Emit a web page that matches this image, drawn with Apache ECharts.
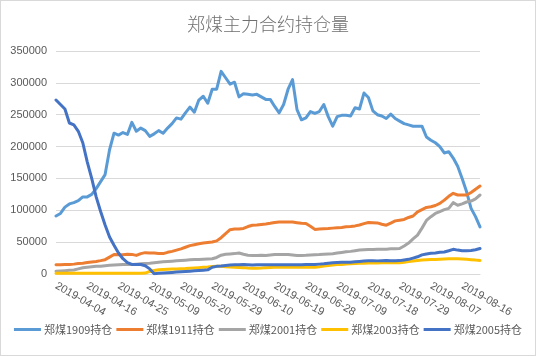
<!DOCTYPE html>
<html>
<head>
<meta charset="utf-8">
<script src="https://cdn.jsdelivr.net/npm/echarts@6/dist/echarts.min.js"></script>
<style>
html,body{margin:0;padding:0;background:#fff;}
#c{width:536px;height:356px;position:relative;}
#frame{position:absolute;left:0;top:0;width:536px;height:356px;box-sizing:border-box;border:1px solid #d9d9d9;pointer-events:none;}
</style>
</head>
<body>
<div id="c"></div>
<div id="frame"></div>
<script>
var categories = ["2019-04-04","2019-04-08","2019-04-09","2019-04-10","2019-04-11","2019-04-12","2019-04-15","2019-04-16","2019-04-17","2019-04-18","2019-04-19","2019-04-22","2019-04-23","2019-04-24","2019-04-25","2019-04-26","2019-04-29","2019-04-30","2019-05-06","2019-05-07","2019-05-08","2019-05-09","2019-05-10","2019-05-13","2019-05-14","2019-05-15","2019-05-16","2019-05-17","2019-05-20","2019-05-21","2019-05-22","2019-05-23","2019-05-24","2019-05-27","2019-05-28","2019-05-29","2019-05-30","2019-05-31","2019-06-03","2019-06-04","2019-06-05","2019-06-06","2019-06-10","2019-06-11","2019-06-12","2019-06-13","2019-06-14","2019-06-17","2019-06-18","2019-06-19","2019-06-20","2019-06-21","2019-06-24","2019-06-25","2019-06-26","2019-06-27","2019-06-28","2019-07-01","2019-07-02","2019-07-03","2019-07-04","2019-07-05","2019-07-08","2019-07-09","2019-07-10","2019-07-11","2019-07-12","2019-07-15","2019-07-16","2019-07-17","2019-07-18","2019-07-19","2019-07-22","2019-07-23","2019-07-24","2019-07-25","2019-07-26","2019-07-29","2019-07-30","2019-07-31","2019-08-01","2019-08-02","2019-08-05","2019-08-06","2019-08-07","2019-08-08","2019-08-09","2019-08-12","2019-08-13","2019-08-14","2019-08-15","2019-08-16","2019-08-19","2019-08-20","2019-08-21","2019-08-22"];

var yTicks = [0,50000,100000,150000,200000,250000,300000,350000];

var zc1909 = [91000,95000,105000,110000,112000,115000,121000,121000,125000,134000,145000,156000,195000,221000,218000,222000,219000,238000,224000,229000,225000,216000,220000,225000,221000,229000,236000,245000,243000,253000,262000,254000,273000,279000,268000,290000,290000,318000,308000,298000,301000,278000,283000,282000,281000,282000,278000,274000,274000,263000,253000,266000,290000,305000,258000,242000,245000,255000,252000,255000,266000,247000,232000,247000,249000,249000,248000,261000,259000,284000,277000,256000,250000,248000,244000,251000,244000,240000,236000,234000,232000,232000,232000,215000,210000,206000,200000,190000,192000,182000,169000,150000,129000,103000,90000,74000];

var zc1911 = [14500,14700,14800,15000,15500,16300,17000,18000,19000,19700,21000,22500,26500,30500,30300,30300,31000,30800,29200,32000,33500,33000,32800,32000,32000,34000,35500,37500,39500,42000,44500,46000,47500,48600,49500,50200,52000,57000,63500,69500,70500,70500,71500,74500,76600,77000,77700,78500,79500,80800,81500,81800,81800,81500,80500,79500,79300,75000,70000,70500,71000,71400,72000,72500,73000,74000,74500,75500,77000,79000,80800,80500,80200,78000,76600,80000,83400,84500,85600,88700,91000,97600,101000,104500,105500,107500,110800,116000,122000,126600,124000,124000,124000,128000,133000,138000];

var zc2001 = [4400,4800,5200,5700,6200,8000,9800,10500,11200,12000,12300,13000,13600,14300,14500,14800,15000,15000,15500,16000,16500,17000,17700,18500,19200,19700,20200,20800,21300,21700,22200,22600,22900,23300,23700,24000,26000,29500,31000,31500,32000,33000,31000,29500,29200,29200,29300,29200,29800,30500,30800,30800,30500,29800,29200,29200,29500,30000,30300,30500,31000,31500,31900,32800,33800,34800,35500,36500,37500,38200,38500,38600,38700,38700,39000,39500,39800,40000,44000,48600,55000,61000,72000,84000,90000,95000,98000,101000,103000,112000,108000,110000,113000,114500,118000,124000];

var zc2003 = [1300,1300,1300,1300,1300,1200,1200,1300,1300,1300,1300,1300,1300,1300,1300,1300,1300,1300,1300,1300,1500,4000,5500,6600,7000,7400,7700,8000,8200,8500,9000,9500,10000,10500,11000,11800,12300,12000,11500,11000,10700,10300,10000,9500,9200,9200,9500,10000,10300,10500,10700,10700,10700,10700,10700,10700,10700,10700,10700,11500,12500,13500,14300,14800,15000,15500,16000,16500,16800,17000,17200,17300,17400,17500,17600,17600,17700,17700,18500,19500,20500,21300,22000,22500,22800,22900,23300,23700,24000,24000,23800,23500,23000,22500,21800,21300];

var zc2005 = [273000,266000,259000,237000,234000,224000,206000,176000,150000,121000,98000,77000,58000,45000,33000,24000,18000,15000,15000,15000,13000,8000,500,1000,1500,2000,2500,3000,3500,4000,4500,5000,5500,6000,6500,10500,12000,12500,13500,14000,14500,14500,14800,14500,14300,14500,14600,14400,14500,14500,14700,14500,14400,14600,14500,14700,14800,15000,15000,15500,16000,17000,17700,18000,18300,18500,18600,19200,19800,20400,20800,20800,20600,20800,21000,20800,20700,21000,22000,23000,25000,27000,30000,31500,32500,33000,34000,34500,36500,38700,37500,36500,36500,37000,38000,40000];

var seriesNames = ["郑煤1909持仓","郑煤1911持仓","郑煤2001持仓","郑煤2003持仓","郑煤2005持仓"];
var seriesData = [zc1909, zc1911, zc2001, zc2003, zc2005];
var colors = ["#5B9BD5","#ED7D31","#A5A5A5","#FFC000","#4472C4"];

var chart = echarts.init(document.getElementById('c'), null, {renderer:'canvas'});
var series = seriesNames.map(function(n, k){
  return {
    name: n, type: 'line', data: seriesData[k], showSymbol: false, symbol: 'none',
    lineStyle: {width: 3, color: colors[k], cap: 'round', join: 'round'},
    itemStyle: {color: colors[k]}, animation: false
  };
});
chart.setOption({
  animation: false,
  title: {
    text: '郑煤主力合约持仓量', left: 'center', top: 10,
    textStyle: {fontFamily: 'Noto Sans CJK SC', fontSize: 18, fontWeight: 300, color: '#6f6f6f'}
  },
  legend: {
    bottom: 16, left: 'center', icon: 'rect', itemWidth: 27, itemHeight: 3, itemGap: 4,
    textStyle: {fontFamily: 'Noto Sans CJK SC', fontSize: 11, color: '#595959', padding: [0,0,0,-2]},
    data: seriesNames
  },
  grid: {left: 56, right: 56, top: 51, bottom: 82},
  xAxis: {
    type: 'category', data: categories, boundaryGap: false,
    axisLine: {lineStyle: {color: '#d9d9d9'}}, axisTick: {show: false},
    axisLabel: {interval: 6, rotate: -30, margin: 11, color: '#595959', fontSize: 11, fontFamily: 'Liberation Sans'}
  },
  yAxis: {
    type: 'value', min: yTicks[0], max: yTicks[yTicks.length-1], interval: yTicks[1]-yTicks[0],
    axisLine: {show: false}, axisTick: {show: false},
    splitLine: {lineStyle: {color: '#d9d9d9'}},
    axisLabel: {color: '#595959', fontSize: 11, margin: 9, fontFamily: 'Liberation Sans',
      formatter: function(v){ return String(v); }}
  },
  series: series
});
</script>
</body>
</html>
